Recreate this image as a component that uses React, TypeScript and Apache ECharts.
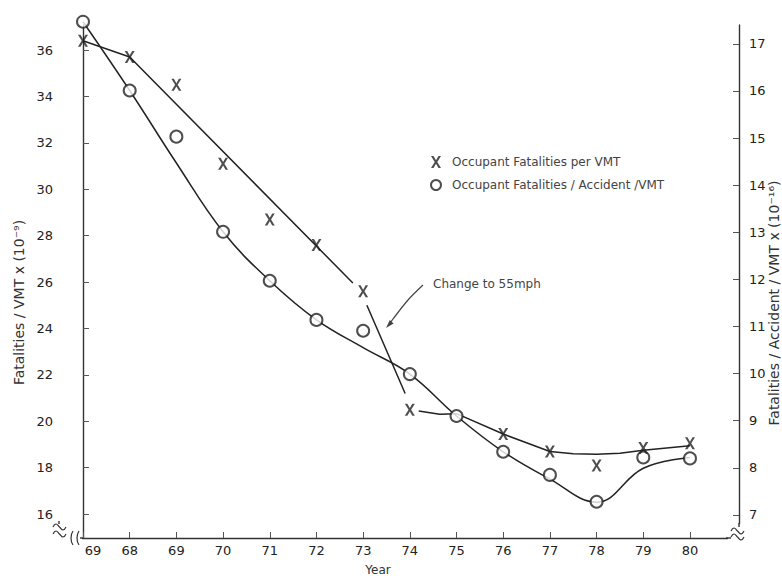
import React, { useEffect, useRef } from "react";
import * as echarts from "echarts";

// Category labels along the year axis (as printed)
const yearLabels = ["69", "68", "69", "70", "71", "72", "73", "74", "75", "76", "77", "78", "79", "80"];

// X markers: Occupant Fatalities per VMT (left axis, x10^-9)
const fatalitiesPerVMT: (number | null)[] = [36.4, 35.7, 34.5, 31.1, 28.7, 27.6, 25.6, 20.5, null, 19.45, 18.7, 18.1, 18.85, 19.05];
// O markers: Occupant Fatalities / Accident / VMT (right axis, x10^-16)
const fatalitiesPerAccidentVMT = [17.47, 16.01, 15.03, 13.01, 11.97, 11.14, 10.91, 9.99, 9.1, 8.34, 7.85, 7.28, 8.22, 8.2];

// Hand-drawn trend line through the X markers (positions in year index, values on left axis)
const xTrendPos = [0, 1, 5.78, 5.9, 6.08, 6.9, 7.05, 7.19, 7.64, 8, 9, 10, 10.5, 11, 11.5, 12, 13];
const xTrendVal: (number | null)[] = [36.4, 35.7, 25.96, null, 25.0, 21.2, null, 20.44, 20.3, 20.33, 19.45, 18.7, 18.6, 18.58, 18.62, 18.75, 18.95];

// Hand-drawn trend curve through the O markers (values on right axis)
const oTrendPos = [0, 1, 2, 3, 4, 5, 6, 7, 8, 9, 10, 11, 12, 13];
const oTrendVal = [17.47, 16.01, 14.47, 13.01, 11.97, 11.14, 10.55, 9.99, 9.1, 8.34, 7.76, 7.27, 7.99, 8.22];

// Tick values
const leftTicks = [16, 18, 20, 22, 24, 26, 28, 30, 32, 34, 36];
const rightTicks = [7, 8, 9, 10, 11, 12, 13, 14, 15, 16, 17];
const xTicks = yearLabels.map((_, i) => i);

const rightAxisTitle = "Fatalities / Accident / VMT x (10⁻¹⁶)";

const FONT = "'DejaVu Sans', 'Liberation Sans', Arial, sans-serif";
const INK = "#222";
const TEXT = "#333";

const X_SYMBOL =
  "path://M0,0 L2.5,0 L5,4.3 L7.5,0 L10,0 L6.3,6 L10,12 L7.5,12 L5,7.7 L2.5,12 L0,12 L3.7,6 Z";

export default function App() {
  const ref = useRef<HTMLDivElement>(null);

  useEffect(() => {
    if (!ref.current) return;
    const chart = echarts.init(ref.current, null, { renderer: "svg" });

    const wavy = (x0: number, y0: number) => ({
      type: "polyline",
      z: 101,
      shape: {
        points: [
          [x0, y0],
          [x0 + 3, y0 - 3],
          [x0 + 6.5, y0],
          [x0 + 10, y0 + 3],
          [x0 + 13, y0],
        ],
        smooth: 0.5,
      },
      style: { stroke: TEXT, lineWidth: 1.2, fill: "none" },
    });

    chart.setOption({
      animation: false,
      backgroundColor: "#fff",
      grid: { left: 59, right: 43, top: 25, bottom: 38, outerBoundsMode: "none", containLabel: false },
      legend: {
        orient: "vertical",
        left: 430,
        top: 156,
        padding: 0,
        itemGap: 11,
        itemWidth: 10,
        itemHeight: 12,
        textStyle: { fontFamily: FONT, fontSize: 12, color: "#444", padding: [0, 0, 0, 6] },
        data: [
          { name: "Occupant Fatalities per VMT" },
          { name: "Occupant Fatalities / Accident /VMT", itemStyle: { borderWidth: 1.5 } },
        ],
      },
      xAxis: {
        type: "value",
        min: -0.514,
        max: 14.05,
        name: "Year",
        nameLocation: "middle",
        nameGap: 26,
        nameTextStyle: { fontFamily: FONT, fontSize: 12, color: TEXT, padding: [0, 42, 0, 0] },
        splitLine: { show: false },
        axisLine: { show: true, lineStyle: { color: "#333", width: 1.4 } },
        axisTick: { show: true, inside: true, length: 6, customValues: xTicks, lineStyle: { color: "#555" } },
        axisLabel: {
          customValues: xTicks,
          margin: 6,
          fontFamily: FONT,
          fontSize: 13,
          color: INK,
          formatter: (v: number) => (v === 0 ? "{f|" + yearLabels[0] + "}" : yearLabels[v] ?? ""),
          rich: { f: { fontFamily: FONT, fontSize: 13, color: INK, padding: [0, 0, 0, 20] } },
        },
      },
      yAxis: [
        {
          type: "value",
          position: "left",
          min: 14.97,
          max: 37.08,
          name: "Fatalities / VMT x (10⁻⁹)",
          nameLocation: "middle",
          nameRotate: 90,
          nameGap: 26,
          nameTextStyle: { fontFamily: FONT, fontSize: 14, color: TEXT, padding: [0, 42, 0, 0] },
          splitLine: { show: false },
          axisLine: { show: true, lineStyle: { color: "#333", width: 1.4 } },
          axisTick: { show: true, inside: true, length: 6, customValues: leftTicks, lineStyle: { color: "#555" } },
          axisLabel: { customValues: leftTicks, margin: 6, fontFamily: FONT, fontSize: 13, color: INK },
        },
        {
          type: "value",
          position: "right",
          min: 6.51,
          max: 17.4,
          splitLine: { show: false },
          axisLine: { show: true, lineStyle: { color: "#333", width: 1.4 } },
          axisTick: { show: true, inside: true, length: 6, customValues: rightTicks, lineStyle: { color: "#555" } },
          axisLabel: { customValues: rightTicks, margin: 10, fontFamily: FONT, fontSize: 13, color: INK },
        },
      ],
      series: [
        {
          name: "X trend",
          type: "line",
          yAxisIndex: 0,
          data: xTrendPos.map((p, i) => [p, xTrendVal[i] === null ? "-" : xTrendVal[i]]),
          showSymbol: false,
          smooth: false,
          clip: false,
          lineStyle: { color: INK, width: 1.5 },
          silent: true,
          z: 2,
        },
        {
          name: "O trend",
          type: "line",
          yAxisIndex: 1,
          data: oTrendPos.map((p, i) => [p, oTrendVal[i]]),
          showSymbol: false,
          smooth: 0.4,
          clip: false,
          lineStyle: { color: INK, width: 1.5 },
          silent: true,
          z: 2,
        },
        {
          name: "Occupant Fatalities per VMT",
          type: "scatter",
          yAxisIndex: 0,
          data: fatalitiesPerVMT.map((v, i) => [i, v === null ? "-" : v]),
          symbol: X_SYMBOL,
          symbolSize: [10, 12],
          clip: false,
          itemStyle: { color: INK },
          z: 4,
        },
        {
          name: "Occupant Fatalities / Accident /VMT",
          type: "scatter",
          yAxisIndex: 1,
          data: fatalitiesPerAccidentVMT.map((v, i) => [i, v]),
          symbol: "emptyCircle",
          symbolSize: 12,
          clip: false,
          itemStyle: { color: INK, borderColor: INK, borderWidth: 1.5 },
          z: 3,
        },
      ],
      graphic: [
        // right axis title
        {
          type: "text",
          z: 101,
          x: 774,
          y: 303,
          rotation: Math.PI / 2,
          style: {
            text: rightAxisTitle,
            fontFamily: FONT,
            fontSize: 14,
            fill: TEXT,
            align: "center",
            verticalAlign: "middle",
          },
        },
        // axis break masks
        { type: "rect", z: 100, shape: { x: 52, y: 521, width: 30, height: 24 }, style: { fill: "#fff" } },
        { type: "rect", z: 100, shape: { x: 728, y: 524, width: 20, height: 22 }, style: { fill: "#fff" } },
        wavy(53, 527),
        wavy(53, 534),
        {
          type: "polyline",
          z: 101,
          shape: { points: [[73, 531], [71, 538], [73, 545]], smooth: 0.6 },
          style: { stroke: TEXT, lineWidth: 1.2, fill: "none" },
        },
        {
          type: "polyline",
          z: 101,
          shape: { points: [[79, 531], [77, 538], [79, 545]], smooth: 0.6 },
          style: { stroke: TEXT, lineWidth: 1.2, fill: "none" },
        },
        { type: "line", z: 101, shape: { x1: 59, y1: 521, x2: 59, y2: 524 }, style: { stroke: "#333", lineWidth: 1.4 } },
        { type: "line", z: 101, shape: { x1: 80, y1: 538, x2: 83, y2: 538 }, style: { stroke: "#333", lineWidth: 1.4 } },
        { type: "line", z: 101, shape: { x1: 739, y1: 523, x2: 739, y2: 527 }, style: { stroke: "#333", lineWidth: 1.4 } },
        { type: "line", z: 101, shape: { x1: 726, y1: 538, x2: 731, y2: 538 }, style: { stroke: "#333", lineWidth: 1.4 } },
        wavy(731, 531),
        wavy(731, 537),
        // annotation
        {
          type: "text",
          z: 101,
          left: 433,
          top: 278,
          style: { text: "Change to 55mph", fontFamily: FONT, fontSize: 12, fill: "#444" },
        },
        {
          type: "polyline",
          z: 101,
          shape: { points: [[423, 285], [408, 300], [390, 323]], smooth: 0.3 },
          style: { stroke: "#444", lineWidth: 1.2, fill: "none" },
        },
        {
          type: "polygon",
          z: 101,
          shape: { points: [[386, 328], [393.6, 323.5], [389.8, 320.1]] },
          style: { fill: "#444" },
        },
      ],
    });

    return () => chart.dispose();
  }, []);

  return <div ref={ref} style={{ position: "absolute", left: 0, top: 0, width: 782, height: 576 }} />;
}
